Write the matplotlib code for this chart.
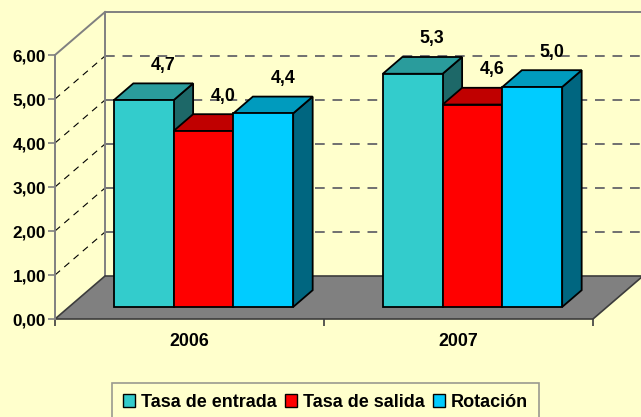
import matplotlib.pyplot as plt
from matplotlib.patches import Polygon, Patch

# datos
years = ["2006", "2007"]
series = ["Tasa de entrada", "Tasa de salida", "Rotación"]
tasa_entrada = [4.7, 5.3]
tasa_salida = [4.0, 4.6]
rotacion = [4.4, 5.0]
yticks = [0, 1, 2, 3, 4, 5, 6]

values = [tasa_entrada, tasa_salida, rotacion]
front = ["#33CCCC", "#FF0000", "#00CCFF"]
top = ["#2A9C9C", "#C00000", "#009BBE"]
side = ["#1D6868", "#800000", "#006680"]

bg = "#FFFFCC"
plt.rcParams['font.family'] = ['Liberation Sans', 'DejaVu Sans']
plt.rcParams['font.weight'] = 'bold'

fig = plt.figure(figsize=(6.41, 4.17), dpi=100, facecolor=bg)
ax = fig.add_axes([55 / 641, 98 / 417, 538 / 641, 264 / 417])
ax.set_facecolor("none")
ax.set_xlim(0, 2)
ax.set_ylim(0, 6)

# profundidad 3D (en unidades de datos)
DX = 50 / 269
DY = 43 / 44


def P(x, y, d):
    return (x + d * DX, y + d * DY)


# suelo
ax.add_patch(Polygon([P(0, 0, 0), P(2, 0, 0), P(2, 0, 1), P(0, 0, 1)],
                     closed=True, fc="#808080", ec="#3c3c3c", lw=1.2,
                     clip_on=False, zorder=1))

# pared del fondo
for v in yticks[1:-1]:
    xs, ys = zip(P(0, v, 1), P(2, v, 1))
    ax.plot(xs, ys, color="#707070", ls=(0, (5, 4)), lw=1.4, clip_on=False, zorder=0)
    xs, ys = zip(P(0, v, 0), P(0, v, 1))
    ax.plot(xs, ys, color="black", ls=(0, (6, 5)), lw=0.8, clip_on=False, zorder=0)
xs, ys = zip(P(0, 0, 1), P(0, 6, 1), P(2, 6, 1))
ax.plot(xs, ys, color="#808080", lw=1.4, clip_on=False, zorder=0)
xs, ys = zip(P(0, 6, 0), P(0, 6, 1))
ax.plot(xs, ys, color="#808080", lw=1.4, clip_on=False, zorder=0)

# barras
w = 1 / 4.5
f1, f2 = 0.28, 0.67
for g in range(len(years)):
    for i in range(len(series)):
        v = values[i][g]
        x0 = g + 0.75 * w + i * w
        x1 = x0 + w
        ax.add_patch(Polygon([P(x1, 0, f1), P(x1, 0, f2), P(x1, v, f2), P(x1, v, f1)],
                             fc=side[i], ec="black", lw=1.3, clip_on=False, zorder=2))
        ax.add_patch(Polygon([P(x0, v, f1), P(x1, v, f1), P(x1, v, f2), P(x0, v, f2)],
                             fc=top[i], ec="black", lw=1.3, clip_on=False, zorder=2))
        ax.add_patch(Polygon([P(x0, 0, f1), P(x1, 0, f1), P(x1, v, f1), P(x0, v, f1)],
                             fc=front[i], ec="black", lw=1.3, clip_on=False, zorder=2))
        ax.annotate(f"{v:.1f}".replace(".", ","), P((x0 + x1) / 2, v, f2),
                    xytext=(0, 13), textcoords="offset points", ha="center",
                    va="center", fontsize=12.8, fontweight="bold", zorder=3,
                    annotation_clip=False)

# ejes
for s in ["top", "right", "bottom"]:
    ax.spines[s].set_visible(False)
ax.spines["left"].set_color("#808080")
ax.spines["left"].set_linewidth(1.4)
ax.set_yticks(yticks)
ax.set_yticklabels([f"{t:.2f}".replace(".", ",") for t in yticks])
ax.tick_params(axis="y", length=5, width=1.2, color="#808080", pad=1.5,
               labelsize=12.3, labelcolor="black")
ax.set_xticks([0, 1, 2])
ax.set_xticklabels([])
ax.tick_params(axis="x", length=5, width=1.2, color="#3c3c3c")
for g, yr in enumerate(years):
    ax.annotate(yr, (g + 0.5, 0), xytext=(0, -16), textcoords="offset points",
                ha="center", va="center", fontsize=12.8, fontweight="bold",
                annotation_clip=False)

handles = [Patch(fc=c, ec="black", lw=1) for c in front]
leg = fig.legend(handles, series, loc="upper center", ncol=3,
                 bbox_to_anchor=(325.5 / 641, 34 / 417), borderaxespad=0,
                 frameon=True, fancybox=False, facecolor=bg, edgecolor="#808080",
                 prop={"size": 13, "weight": "bold"}, handlelength=0.65,
                 handleheight=0.65, handletextpad=0.35, columnspacing=0.45,
                 borderpad=0.6)
leg.get_frame().set_linewidth(1.2)

fig.savefig("out.png", dpi=100, facecolor=bg)
